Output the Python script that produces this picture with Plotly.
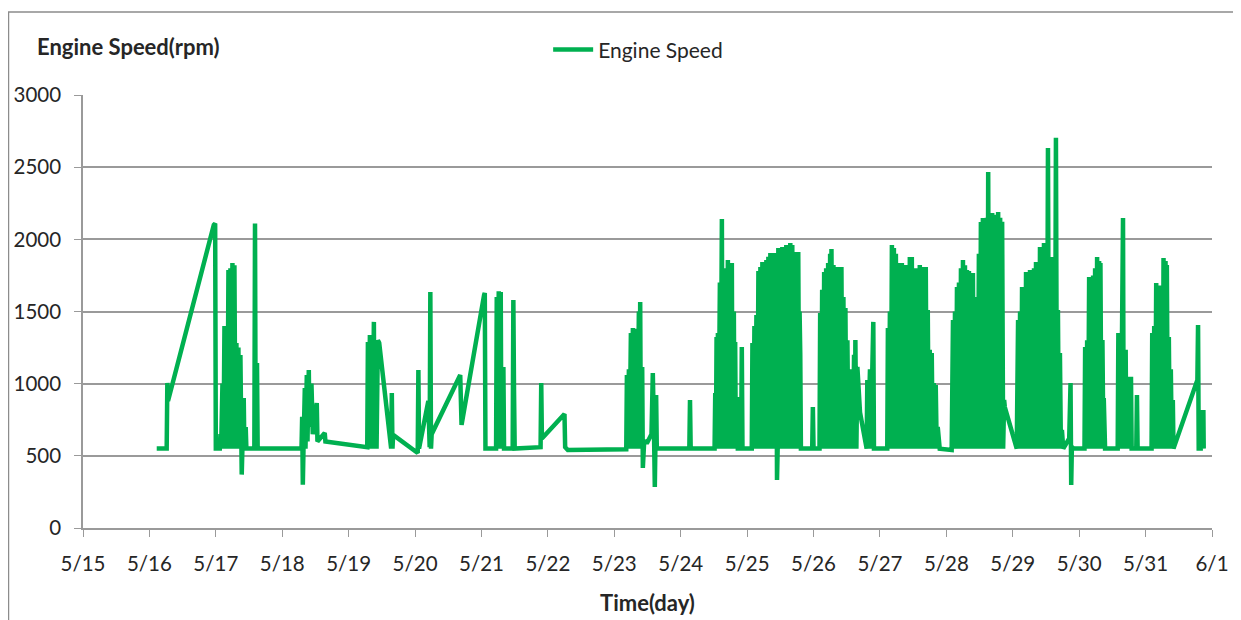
import plotly.graph_objects as go
from datetime import datetime, timedelta

# time as fractional day-of-May, engine speed in rpm
day = [
    # 5/16 - 5/17
    16.11, 16.26, 16.27, 16.28, 16.97, 16.99, 17.00, 17.06, 17.07, 17.08,
    17.10, 17.115, 17.13, 17.145, 17.16, 17.175, 17.19, 17.205, 17.22, 17.235,
    17.25, 17.265, 17.28, 17.295, 17.31, 17.325, 17.34, 17.355, 17.37, 17.385,
    17.39, 17.40, 17.42, 17.43, 17.45, 17.46, 17.58, 17.59, 17.60, 17.62, 17.63,
    # 5/18 - 5/19
    18.29, 18.30, 18.31, 18.32, 18.34, 18.35, 18.37, 18.38, 18.40, 18.41,
    18.44, 18.46, 18.52, 18.53, 18.64, 18.65, 19.28,
    19.29, 19.30, 19.32, 19.33, 19.35, 19.36, 19.38, 19.39, 19.41, 19.42,
    19.44, 19.46, 19.64, 19.65, 19.66, 19.67,
    # 5/20 - 5/22
    20.04, 20.05, 20.06, 20.20, 20.22, 20.23, 20.24, 20.25, 20.68, 20.70,
    21.04, 21.05, 21.06, 21.22, 21.23, 21.24, 21.26, 21.27, 21.29, 21.30,
    21.33, 21.34, 21.47, 21.48, 21.49, 21.50, 21.89, 21.90, 21.91, 22.25,
    22.26, 22.30, 23.18,
    # 5/23
    23.19, 23.20, 23.22, 23.23, 23.25, 23.26, 23.28, 23.29, 23.31, 23.32,
    23.34, 23.35, 23.37, 23.38, 23.39, 23.40, 23.42, 23.43, 23.45, 23.50,
    23.56, 23.58, 23.60, 23.61, 23.63, 23.64, 24.13, 24.14, 24.15, 24.51,
    # 5/24
    24.52, 24.53, 24.54, 24.55, 24.56, 24.57, 24.59, 24.60, 24.62, 24.63,
    24.65, 24.66, 24.68, 24.69, 24.71, 24.72, 24.74, 24.75, 24.77, 24.78,
    24.80, 24.81, 24.82, 24.83, 24.85, 24.86, 24.91, 24.92, 24.93, 25.07,
    # 5/25
    25.08, 25.095, 25.11, 25.125, 25.14, 25.155, 25.17, 25.185, 25.20, 25.215,
    25.23, 25.245, 25.26, 25.275, 25.29, 25.305, 25.32, 25.335, 25.35, 25.365,
    25.38, 25.395, 25.41, 25.425, 25.44, 25.45, 25.46, 25.47, 25.485, 25.50,
    25.515, 25.53, 25.545, 25.56, 25.575, 25.59, 25.605, 25.62, 25.635, 25.65,
    25.665, 25.68, 25.695, 25.71, 25.725, 25.74, 25.755, 25.77, 25.785, 25.79,
    25.80, 25.81, 25.98, 25.99, 26.00, 26.09,
    # 5/26
    26.10, 26.115, 26.13, 26.145, 26.16, 26.175, 26.19, 26.205, 26.22, 26.235,
    26.25, 26.265, 26.27, 26.285, 26.30, 26.315, 26.33, 26.345, 26.36, 26.375,
    26.39, 26.405, 26.42, 26.435, 26.45, 26.465, 26.48, 26.495, 26.51, 26.525,
    26.55, 26.565, 26.58, 26.595, 26.61, 26.625, 26.63, 26.645, 26.66, 26.70,
    26.80, 26.81, 26.82, 26.85, 26.86, 26.90, 26.91, 27.11,
    # 5/27
    27.12, 27.135, 27.15, 27.165, 27.18, 27.195, 27.21, 27.225, 27.24, 27.255,
    27.27, 27.285, 27.30, 27.315, 27.33, 27.345, 27.36, 27.375, 27.39, 27.405,
    27.42, 27.435, 27.45, 27.465, 27.48, 27.495, 27.51, 27.525, 27.54, 27.555,
    27.57, 27.585, 27.60, 27.615, 27.63, 27.645, 27.66, 27.675, 27.69, 27.705,
    27.72, 27.735, 27.75, 27.765, 27.78, 27.795, 27.81, 27.825, 27.84, 27.855,
    27.87, 27.90, 28.08,
    # 5/28
    28.10, 28.115, 28.13, 28.145, 28.16, 28.175, 28.19, 28.205, 28.22, 28.235,
    28.25, 28.265, 28.28, 28.295, 28.31, 28.325, 28.34, 28.355, 28.37, 28.385,
    28.40, 28.415, 28.43, 28.445, 28.46, 28.475, 28.49, 28.505, 28.52, 28.535,
    28.55, 28.565, 28.58, 28.595, 28.61, 28.62, 28.63, 28.645, 28.66, 28.675,
    28.69, 28.705, 28.72, 28.735, 28.75, 28.765, 28.78, 28.795, 28.81, 28.825,
    28.84, 28.855, 28.87, 28.88, 29.06,
    # 5/29
    29.08, 29.095, 29.11, 29.125, 29.14, 29.155, 29.17, 29.185, 29.20, 29.215,
    29.23, 29.245, 29.26, 29.275, 29.29, 29.305, 29.32, 29.335, 29.35, 29.365,
    29.38, 29.395, 29.41, 29.425, 29.44, 29.455, 29.47, 29.485, 29.50, 29.515,
    29.53, 29.545, 29.56, 29.575, 29.59, 29.605, 29.62, 29.635, 29.65, 29.665,
    29.68, 29.695, 29.71, 29.725, 29.74, 29.76, 29.85, 29.87, 29.88, 29.89,
    29.92, 30.08,
    # 5/30
    30.09, 30.105, 30.12, 30.135, 30.15, 30.165, 30.18, 30.195, 30.21, 30.225,
    30.24, 30.255, 30.27, 30.285, 30.30, 30.315, 30.32, 30.335, 30.35, 30.365,
    30.37, 30.39, 30.58, 30.59, 30.60, 30.62, 30.63, 30.66, 30.67, 30.70,
    30.71, 30.74, 30.75, 30.78, 30.79, 30.86, 30.87, 30.88, 31.09,
    # 5/31
    31.10, 31.115, 31.13, 31.145, 31.16, 31.175, 31.19, 31.205, 31.22, 31.235,
    31.25, 31.26, 31.27, 31.285, 31.30, 31.315, 31.32, 31.335, 31.35, 31.365,
    31.38, 31.395, 31.41, 31.42, 31.78, 31.79, 31.80, 31.83, 31.85, 31.86,
    31.87, 31.875,
]

rpm = [
    # 5/16 - 5/17
    550, 550, 1005, 880, 2100, 2110, 550, 550, 650, 550,
    1000, 550, 1400, 550, 1350, 550, 1788, 550, 1800, 550,
    1836, 550, 1820, 550, 1282, 550, 1250, 550, 1199, 550,
    370, 550, 900, 550, 700, 550, 550, 2110, 550, 1143, 550,
    # 5/18 - 5/19
    550, 770, 300, 550, 970, 550, 1060, 600, 1095, 700,
    1000, 650, 866, 600, 658, 600, 560,
    1289, 550, 1337, 550, 1250, 550, 1428, 550, 1300, 550,
    1300, 1282, 550, 935, 550, 645,
    # 5/20 - 5/22
    520, 1095, 550, 880, 560, 1635, 550, 650, 1060, 714,
    1615, 1628, 550, 550, 1600, 550, 1640, 550, 1635, 550,
    1116, 550, 550, 1580, 956, 550, 560, 1005, 620, 790,
    560, 540, 545,
    # 5/23
    1060, 550, 1100, 550, 1350, 550, 1386, 550, 1380, 550,
    1200, 550, 1500, 550, 1566, 550, 1116, 416, 600, 596,
    650, 1074, 600, 284, 922, 550, 550, 887, 550, 550,
    # 5/24
    935, 550, 1324, 550, 1351, 550, 1700, 550, 2141, 550,
    1300, 550, 1800, 550, 1857, 550, 1700, 550, 1836, 550,
    1500, 550, 1289, 550, 908, 550, 550, 1254, 550, 550,
    # 5/25
    1282, 550, 1400, 550, 1476, 550, 1780, 550, 1809, 550,
    1843, 550, 1800, 550, 1857, 550, 1880, 550, 1906, 550,
    1880, 550, 1906, 550, 1900, 333, 550, 1940, 550, 1920,
    550, 1947, 550, 1930, 550, 1960, 550, 1950, 550, 1975,
    550, 1960, 550, 1913, 550, 1900, 550, 1913, 550, 1500,
    1213, 550, 550, 838, 550, 550,
    # 5/26
    1490, 550, 1650, 550, 1774, 550, 1800, 550, 1836, 550,
    1900, 550, 1933, 550, 1822, 550, 1800, 550, 1809, 550,
    1800, 550, 1809, 550, 1600, 550, 1524, 550, 1300, 550,
    1100, 550, 887, 550, 1200, 550, 1303, 550, 1116, 800,
    550, 1026, 550, 1100, 550, 1428, 550, 550,
    # 5/27
    1386, 550, 1500, 550, 1961, 550, 1940, 550, 1900, 550,
    1836, 550, 1600, 550, 1836, 550, 1700, 550, 1822, 550,
    1700, 550, 1878, 550, 1878, 550, 1750, 550, 1800, 550,
    1700, 550, 1822, 550, 1809, 550, 1700, 550, 1809, 550,
    1511, 550, 1234, 550, 1213, 550, 1005, 550, 991, 550,
    700, 550, 540,
    # 5/28
    1441, 550, 1500, 550, 1670, 550, 1700, 550, 1800, 550,
    1857, 550, 1820, 550, 1788, 550, 1780, 550, 1767, 550,
    1767, 550, 1600, 550, 1372, 550, 1900, 550, 2120, 550,
    2148, 550, 2140, 550, 2150, 550, 2467, 550, 2150, 550,
    2183, 550, 2150, 550, 2170, 550, 2190, 550, 2150, 550,
    2121, 550, 887, 838, 550,
    # 5/29
    1441, 550, 1500, 550, 1670, 550, 1650, 550, 1774, 550,
    1750, 550, 1788, 550, 1700, 550, 1800, 550, 1843, 550,
    1820, 550, 1947, 550, 1947, 550, 1975, 550, 1960, 550,
    2633, 550, 1878, 550, 1850, 550, 1878, 550, 2703, 550,
    1511, 550, 1213, 550, 679, 550, 620, 1005, 298, 560,
    550, 550,
    # 5/30
    1254, 550, 1300, 550, 1739, 550, 1700, 550, 1750, 550,
    1800, 550, 1878, 550, 1850, 550, 1836, 550, 1303, 550,
    900, 550, 550, 1351, 550, 1300, 550, 2148, 550, 1234,
    550, 1047, 550, 1047, 550, 550, 922, 550, 550,
    # 5/31
    1351, 550, 1400, 550, 1698, 550, 1500, 550, 1680, 550,
    1400, 550, 1871, 550, 1850, 550, 1822, 550, 1324, 550,
    1100, 550, 887, 550, 1026, 1407, 550, 550, 818, 550,
    818, 550,
]

x_start = "2015-05-15"
x_end = "2015-06-01"

base = datetime(2015, 5, 1)
times = [base + timedelta(days=d - 1) for d in day]

font_family = "Lato, 'Liberation Sans', sans-serif"
grid_color = "#9a9a9a"
text_color = "#262626"

fig = go.Figure()
fig.add_trace(go.Scatter(
    x=times, y=rpm,
    mode="lines",
    name="Engine Speed",
    line=dict(color="#00B050", width=4.5),
))

# page body adds an 8px margin, so the figure is 8px smaller than the window
fig.update_layout(
    width=1233, height=612,
    plot_bgcolor="white",
    paper_bgcolor="white",
    font=dict(family=font_family, size=20.5, color=text_color),
    margin=dict(l=75, r=29, t=87, b=92),
    showlegend=True,
    legend=dict(
        orientation="h", x=0.412, y=1.104, xanchor="left", yanchor="middle",
        font=dict(size=21, color=text_color), bgcolor="rgba(0,0,0,0)",
        itemwidth=40,
    ),
    annotations=[
        dict(text="<b>Engine Speed(rpm)</b>", xref="paper", yref="paper",
             x=-0.0425, y=1.111, xanchor="left", yanchor="middle",
             showarrow=False, font=dict(size=22, color=text_color)),
    ],
    shapes=[
        dict(type="rect", xref="paper", yref="paper",
             x0=-0.066, x1=1.2, y0=-0.3, y1=1.1917,
             line=dict(color="#8c8c8c", width=1.5), layer="below"),
    ],
)

fig.update_xaxes(
    type="date",
    range=[x_start, x_end],
    dtick=86400000,
    tick0=x_start,
    tickformat="%-m/%-d",
    ticks="outside", ticklen=7, tickcolor=grid_color,
    showline=True, linecolor=grid_color, linewidth=1.5,
    showgrid=False, zeroline=False,
    ticklabelstandoff=10,
    automargin=False,
    title=dict(text="<b>Time(day)</b>", font=dict(size=22), standoff=21),
)

fig.update_yaxes(
    range=[0, 3000],
    dtick=500,
    ticks="outside", ticklen=7, tickcolor=grid_color,
    showline=True, linecolor=grid_color, linewidth=1.5,
    showgrid=True, gridcolor=grid_color, gridwidth=1.5,
    zeroline=False,
    ticklabelstandoff=9,
    automargin=False,
)

fig.write_html("out.html")
